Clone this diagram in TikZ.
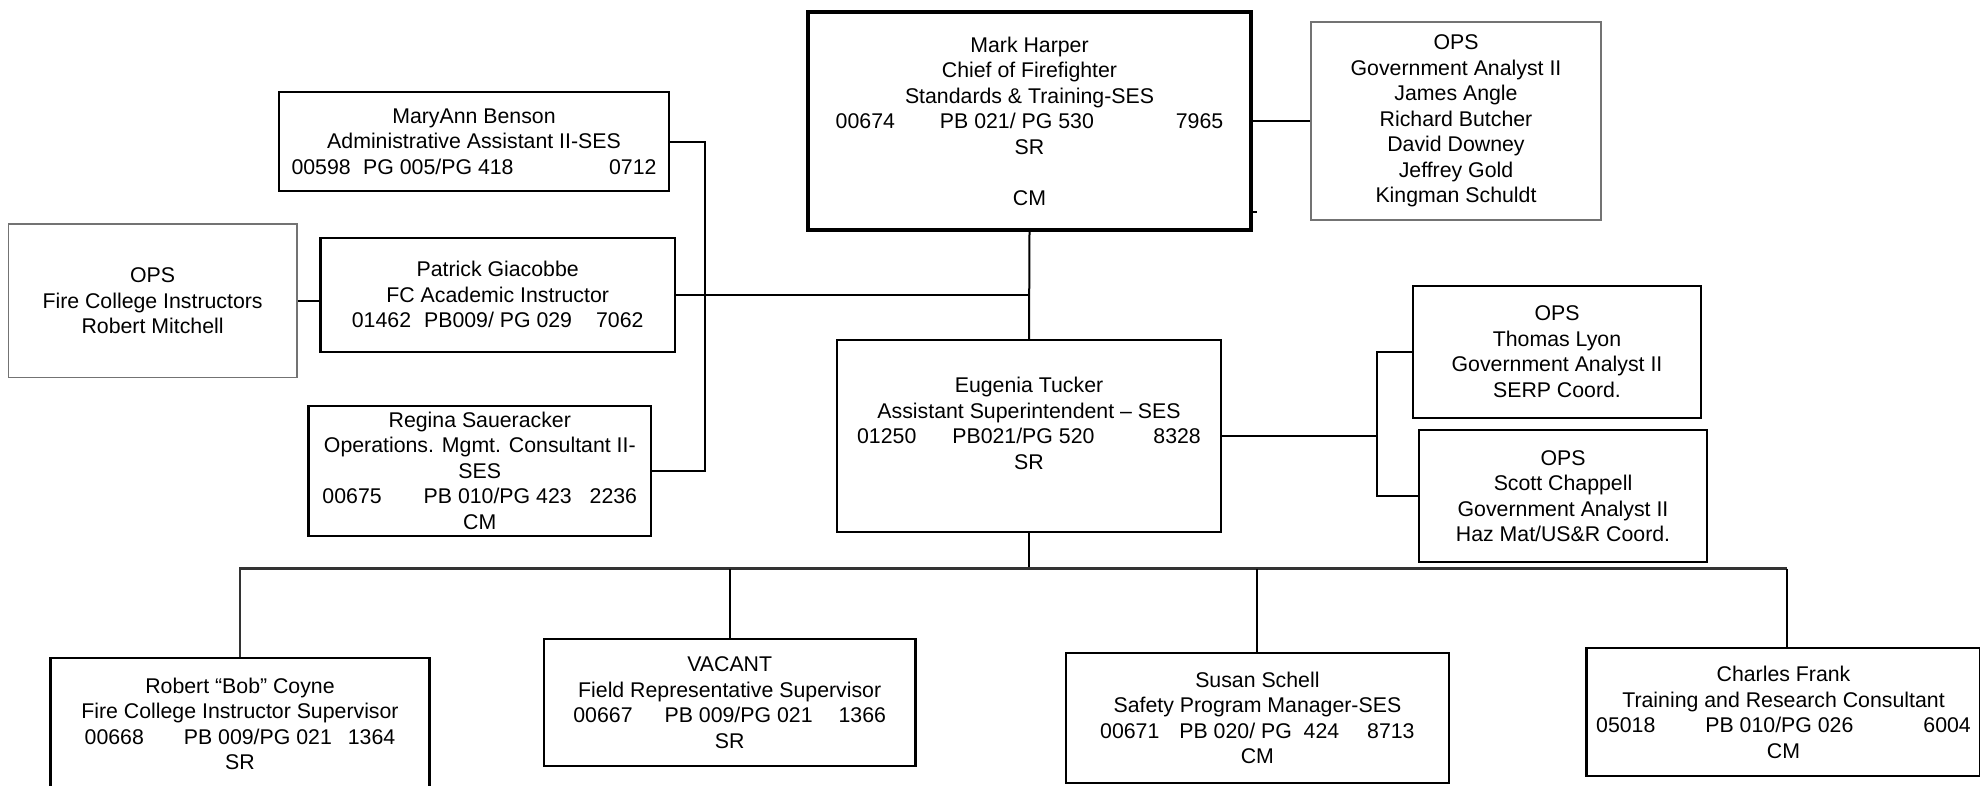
\documentclass[tikz,border=0pt]{standalone}
\usepackage{fontspec}
\setmainfont{Liberation Sans}
\newcommand\chartfont{\fontsize{21.3}{25.5}\selectfont}
\tikzset{
  box/.style={draw=black, line width=2.2pt, align=center, inner sep=0pt, font=\chartfont},
  heavybox/.style={box, line width=3.5pt},
  opsbox/.style={box, draw=black!55, line width=1.5pt},
  link/.style={draw=black, line width=2pt},
  buslink/.style={draw=black!80, line width=2.2pt},
  stublink/.style={draw=black, line width=1.5pt},
}
\begin{document}
\begin{tikzpicture}[x=1pt,y=-1pt]
\useasboundingbox (0,0) rectangle (1980,785);

% top row
\node[heavybox, minimum width=443pt, minimum height=218pt] (mh) at (1029.5,121)
 {Mark Harper\\Chief of Firefighter\\Standards \& Training-SES\\00674\hspace{45pt}PB 021/ PG 530\hspace{82pt}7965\\SR\\\mbox{}\\CM};
\node[opsbox, minimum width=290pt, minimum height=198pt] (opsR) at (1456,121)
 {OPS\\Government Analyst II\\James Angle\\Richard Butcher\\David Downey\\Jeffrey Gold\\Kingman Schuldt};

% left staff
\node[box, minimum width=390pt, minimum height=99pt] (ma) at (474,141.7)
 {MaryAnn Benson\\Administrative Assistant II-SES\\00598\hspace{12.5pt}PG 005/PG 418\hspace{95.5pt}0712};
\node[box, minimum width=354.5pt, minimum height=113.7pt] (pg) at (497.7,294.8)
 {Patrick Giacobbe\\FC Academic Instructor\\01462\hspace{13pt}PB009/ PG 029\hspace{24pt}7062};
\node[opsbox, minimum width=288.7pt, minimum height=153.7pt] (opsL) at (152.6,300.8)
 {OPS\\Fire College Instructors\\Robert Mitchell};
\node[box, minimum width=342.5pt, minimum height=130.3pt] (rs) at (479.8,470.8)
 {Regina Saueracker\\Operations. Mgmt. Consultant II-\\SES\\00675\hspace{42pt}PB 010/PG 423\hspace{18pt}2236\\CM};

% middle
\node[box, minimum width=384pt, minimum height=191.7pt] (et) at (1029,436)
 {Eugenia Tucker\\Assistant Superintendent – SES\\01250\hspace{36pt}PB021/PG 520\hspace{59pt}8328\\SR\\\mbox{}};
\node[box, minimum width=288pt, minimum height=132pt] (tl) at (1557,351.7)
 {OPS\\Thomas Lyon\\Government Analyst II\\SERP Coord.};
\node[box, minimum width=288pt, minimum height=132pt] (sc) at (1563,496)
 {OPS\\Scott Chappell\\Government Analyst II\\Haz Mat/US\&R Coord.};

% bottom row
\node[box, minimum width=379pt, minimum height=132pt] (rc) at (240,724)
 {Robert “Bob” Coyne\\Fire College Instructor Supervisor\\00668\hspace{40pt}PB 009/PG 021\hspace{16pt}1364\\SR};
\node[box, minimum width=371.4pt, minimum height=126.7pt] (va) at (729.7,702.7)
 {VACANT\\Field Representative Supervisor\\00667\hspace{32pt}PB 009/PG 021\hspace{26pt}1366\\SR};
\node[box, minimum width=383.2pt, minimum height=130pt] (ss) at (1257.4,717.7)
 {Susan Schell\\Safety Program Manager-SES\\00671\hspace{20pt}PB 020/ PG\hspace{11.8pt}424\hspace{28pt}8713\\CM};
\node[box, minimum width=394pt, minimum height=127.7pt] (cf) at (1783.5,712.2)
 {Charles Frank\\Training and Research Consultant\\05018\hspace{50pt}PB 010/PG 026\hspace{70pt}6004\\CM};

% helper coordinates
\coordinate (stub) at (1257,212);
\coordinate (brk) at (704.8,470.8);
\coordinate (sp) at (1377,436);
\coordinate (bus) at (1029,568.5);
\coordinate (cfd) at (1787,568.5);

% connectors
\draw[link] (mh.east) -- (opsR.west);
\draw[stublink] (mh.east |- stub) -- (stub);
\draw[link] (mh.south) -- (et.north);
\draw[link] (ma.east) -| (brk) -- (rs.east);
\draw[link] (pg.east) -- (pg.east -| mh.south);
\draw[link] (opsL.east) -- (opsL.east -| pg.west);
\draw[link] (et.east) -- (sp);
\draw[link] (tl.west) -| (sp) |- (sc.west);
\draw[link] (et.south) -- (bus);
\draw[buslink] (rc.north) |- (cfd);
\draw[link] (cfd) -- (cfd |- cf.north);
\draw[link] (va.north) -- (va.north |- bus);
\draw[link] (ss.north) -- (ss.north |- bus);
\end{tikzpicture}
\end{document}
